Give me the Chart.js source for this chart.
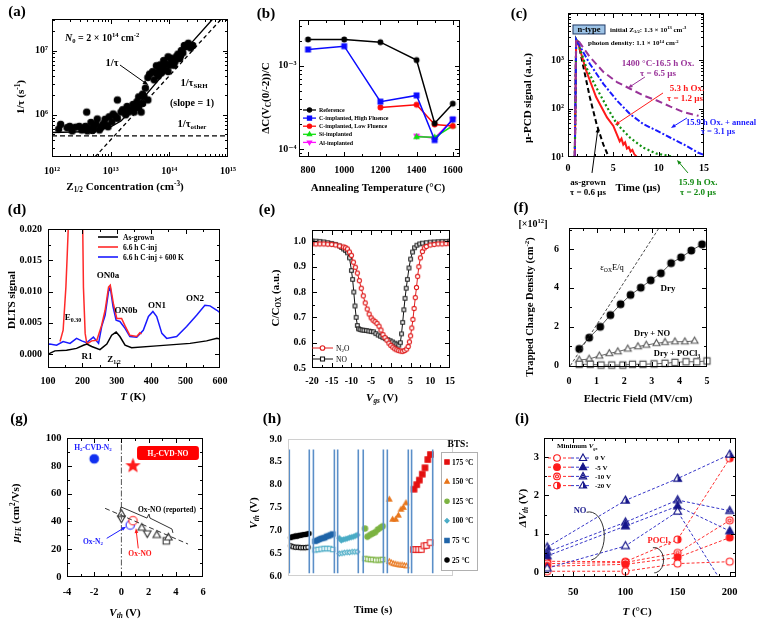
<!DOCTYPE html>
<html>
<head>
<meta charset="utf-8">
<title>SiC defect and MOS interface figures</title>
<script src="https://cdn.jsdelivr.net/npm/chart.js@4.4.1/dist/chart.umd.min.js"></script>
<style>
  html, body { margin: 0; padding: 0; background: #fff; }
  #wrap { position: relative; width: 758px; height: 623px; overflow: hidden; background: #fff; }
  #wrap canvas { position: absolute; left: 0; top: 0; }
</style>
</head>
<body>
<div id="wrap"></div>
<script>
// ---------- (a) 1/tau vs Z1/2 concentration ----------
const aZ = [1.3e12, 1.4e12, 1.8e12, 2.0e12, 2.5e12, 2.9e12, 3.2e12, 3.7e12, 3.9e12, 4.3e12,
  4.6e12, 5.2e12, 5.6e12, 5.9e12, 6.4e12, 7.2e12, 8.0e12, 8.6e12, 9.4e12, 1.05e13,
  1.1e13, 1.3e13, 1.3e13, 1.5e13, 1.6e13, 1.8e13, 1.9e13, 2.2e13, 2.4e13, 2.5e13,
  2.6e13, 2.8e13, 3.0e13, 3.0e13, 3.3e13, 3.5e13, 3.5e13, 3.7e13, 3.9e13, 4.3e13,
  4.3e13, 4.6e13, 5.2e13, 5.5e13, 5.8e13, 6.4e13, 6.8e13, 7.3e13, 7.8e13, 8.4e13,
  8.9e13, 9.5e13, 1.0e14, 1.1e14, 1.15e14, 1.2e14, 1.3e14, 1.5e14, 1.55e14, 1.7e14,
  1.8e14, 1.9e14, 2.1e14, 2.3e14, 2.5e14, 1.4e14, 9.5e13, 1.2e13, 2.0e13, 4.0e12,
  2.2e12, 3.4e12, 4.9e12, 6.8e12, 7.6e12, 9.0e12, 6.0e13, 7.0e13, 8.0e13, 1.05e14, 1.25e14, 1.6e14];
const aRate = [6.0e5, 7.1e5, 6.3e5, 6.6e5, 6.4e5, 6.6e5, 5.8e5, 6.6e5, 1.1e6, 6.1e5,
  7.6e5, 6.5e5, 7.2e5, 8.6e5, 5.8e5, 6.8e5, 8.5e5, 6.8e5, 9.3e5, 7.8e5,
  1.03e6, 8.8e5, 1.7e6, 1.1e6, 1.2e6, 1.0e6, 1.35e6, 1.2e6, 1.45e6, 1.1e6,
  1.3e6, 1.6e6, 1.3e6, 1.9e6, 1.1e6, 1.5e6, 2.1e6, 1.9e6, 2.6e6, 1.7e6,
  3.8e6, 4.3e6, 4.7e6, 3.5e6, 4.5e6, 4.0e6, 5.2e6, 4.5e6, 5.5e6, 5.0e6,
  6.2e6, 4.7e6, 5.9e6, 6.6e6, 7.0e6, 5.9e6, 8.0e6, 7.5e6, 8.3e6, 9.2e6,
  1.2e7, 1.15e7, 1.3e7, 1.1e7, 1.2e7, 8.8e6, 8.0e6, 9.5e5, 1.1e6, 5.6e5,
  5.6e5, 6.0e5, 5.7e5, 6.3e5, 7.3e5, 6.5e5, 5.8e6, 6.0e6, 7.0e6, 7.6e6, 6.8e6, 1.0e7];
const aFitZ = [1e12, 5e12, 1e13, 1.5e13, 2e13, 3e13, 5e13, 1e14, 2e14, 5.5e14];
const aFitRate = [5.3e5, 5.5e5, 6.5e5, 8e5, 1.05e6, 1.5e6, 2.6e6, 5.5e6, 1.1e7, 3.1e7];
const aSrhZ = [5.4e12, 7.7e14], aSrhRate = [2.2e5, 3.1e7];
const aOtherZ = [1e12, 1e15], aOtherRate = [4.7e5, 4.7e5];
const aTicksX = [1e12, 1e13, 1e14, 1e15], aLabelsX = ['10¹²', '10¹³', '10¹⁴', '10¹⁵'];
const aTicksY = [1e6, 1e7], aLabelsY = ['10⁶', '10⁷'];
const aArrow = [[1.44e13, 5.96e6], [4.38e13, 2.9e6]];

// ---------- (b) Z1/2 signal vs annealing temperature ----------
const bTemp = [800, 1000, 1200, 1400, 1500, 1600];
const bRef = [2.07e-3, 2.07e-3, 1.92e-3, 1.17e-3, 2.03e-4, 3.5e-4];
const bCHigh = [1.57e-3, 1.72e-3, 3.7e-4, 4.4e-4, 1.28e-4, 2.27e-4];
const bCLow = [null, null, 3.16e-4, 3.4e-4, 1.97e-4, 1.89e-4];
const bSi = [null, null, null, 1.4e-4, 1.38e-4, 1.9e-4];
const bAl = [null, null, null, 1.43e-4, 1.35e-4, 2.25e-4];
const bNames = ['Reference', 'C-implanted, High Fluence', 'C-implanted, Low Fluence', 'Si-implanted', 'Al-implanted'];
const bTicksX = [800, 1000, 1200, 1400, 1600], bLabelsX = ['800', '1000', '1200', '1400', '1600'];
const bTicksY = [1e-4, 1e-3], bLabelsY = ['10⁻⁴', '10⁻³'];

// ---------- (c) u-PCD decay curves ----------
const cAsGrown = [[0.75, 10], [0.9, 2700], [1.1, 2500], [1.7, 725], [2.4, 174], [3.15, 48], [3.9, 18], [4.45, 10.4]];
const cOx53 = [[0.75, 10], [0.9, 2700], [1.1, 2300], [2.0, 615], [3.1, 174], [4.3, 66], [5.0, 44], [5.5, 26], [5.7, 21],
  [5.9, 24], [6.1, 18], [6.3, 20], [6.5, 15], [6.7, 16], [6.9, 13], [7.1, 14], [7.3, 11.5], [7.6, 10]];
const cOx159 = [[0.75, 10], [0.9, 2700], [1.1, 2300], [2.0, 725], [3.1, 277], [4.3, 107], [5.4, 48], [6.85, 25],
  [8.3, 15.6], [9.8, 11.7], [10.6, 11], [11.2, 10.5], [11.7, 10]];
const cAnneal = [[0.75, 10], [0.9, 2700], [1.1, 2300], [2.4, 850], [3.9, 325], [5.4, 147], [6.85, 77], [8.3, 48],
  [9.8, 35], [11.3, 25], [12.8, 18], [14.3, 12.4], [15, 11]];
const c1400 = [[0.75, 10], [0.9, 2700], [1.1, 2600], [2.4, 1180], [3.9, 575], [5.4, 355], [6.85, 258], [8.3, 187],
  [9.8, 147], [11.3, 110], [12.8, 84], [14.4, 71]];
const cTicksX = [0, 5, 10, 15], cLabelsX = ['0', '5', '10', '15'];
const cTicksY = [10, 100, 1000], cLabelsY = ['10¹', '10²', '10³'];

// ---------- (d) DLTS spectra ----------
const dBlackT = [100, 105, 120, 154, 183, 203, 213, 227, 251, 271, 285, 298, 309, 324, 343, 416, 513, 561, 591, 600];
const dBlack = [0.0000, 0.0001, 0.0005, 0.0006, 0.0009, 0.0014, 0.0016, 0.0012, 0.0007, 0.0016, 0.0030, 0.0035, 0.0028,
  0.0014, 0.0010, 0.0013, 0.0017, 0.0021, 0.0025, 0.0024];
const dRedT = [135, 144, 152, 156, 159, 170, 190, 201, 203, 208, 213, 227, 242, 256, 266, 276, 281, 290, 300, 314, 324, 338, 358, 367, 372];
const dRed = [0.0020, 0.0038, 0.0107, 0.0160, 0.0203, 0.035, 0.035, 0.0200, 0.0107, 0.0033, 0.0016, 0.0021, 0.0022, 0.0046,
  0.0070, 0.0107, 0.0110, 0.0081, 0.0057, 0.0057, 0.0045, 0.0030, 0.0028, 0.0034, 0.0032];
const dBlueT = [100, 105, 125, 144, 164, 183, 198, 212, 232, 247, 256, 266, 276, 281, 289, 298, 309, 324, 338, 358,
  377, 392, 405, 416, 431, 445, 474, 503, 532, 556, 571, 591, 600];
const dBlue = [0.0015, 0.0016, 0.0014, 0.0020, 0.0017, 0.0025, 0.0021, 0.0018, 0.0027, 0.0017, 0.0044, 0.0062, 0.0100,
  0.0107, 0.0076, 0.0054, 0.0052, 0.0041, 0.0028, 0.0027, 0.0038, 0.0060, 0.0068, 0.0060, 0.0033, 0.0025, 0.0028,
  0.0044, 0.0062, 0.0078, 0.0077, 0.0070, 0.0066];
const dNames = ['As-grown', '6.6 h C-inj', '6.6 h C-inj + 600 K'];
const dTicksX = [100, 200, 300, 400, 500, 600], dLabelsX = ['100', '200', '300', '400', '500', '600'];
const dTicksY = [0, 0.005, 0.01, 0.015, 0.02], dLabelsY = ['0.000', '0.005', '0.010', '0.015', '0.020'];

// ---------- (e) C-V curves ----------
const eNO = [[-20, 1.002], [-19, 1.001], [-18, 1.0], [-17, 0.998], [-16, 0.995], [-15, 0.992], [-14, 0.988], [-13, 0.982],
  [-12.5, 0.976], [-12, 0.97], [-11.5, 0.964], [-11, 0.955], [-10.5, 0.935], [-10, 0.885], [-9.7, 0.85], [-9.4, 0.80],
  [-9.1, 0.745], [-8.8, 0.70], [-8.5, 0.668], [-8.2, 0.655], [-7.8, 0.652], [-7.3, 0.65], [-6.8, 0.649], [-6.2, 0.648],
  [-5.6, 0.646], [-5, 0.644], [-4.4, 0.643], [-3.8, 0.636], [-3.2, 0.63], [-2.6, 0.625], [-2, 0.62], [-1.4, 0.616],
  [-0.8, 0.612], [-0.2, 0.608], [0.4, 0.603], [1, 0.598], [1.5, 0.594], [2, 0.59], [2.4, 0.60], [2.7, 0.635], [3, 0.68],
  [3.3, 0.73], [3.6, 0.775], [3.9, 0.815], [4.2, 0.85], [4.6, 0.895], [5, 0.93], [5.5, 0.958], [6, 0.975], [6.6, 0.985],
  [7.3, 0.99], [8, 0.993], [9, 0.995], [10, 0.997], [11, 0.998], [12, 0.999], [13, 1.0], [14, 1.0], [15, 1.001]];
const eN2O = [[-20, 0.99], [-19, 0.99], [-18, 0.99], [-17, 0.99], [-16, 0.989], [-15, 0.988], [-14, 0.986], [-13, 0.982],
  [-12, 0.978], [-11.5, 0.975], [-11, 0.97], [-10.5, 0.958], [-10, 0.945], [-9.5, 0.918], [-9, 0.898], [-8.5, 0.875],
  [-8, 0.845], [-7.5, 0.815], [-7, 0.785], [-6.5, 0.757], [-6, 0.733], [-5.5, 0.713], [-5, 0.698], [-4.5, 0.689],
  [-4, 0.683], [-3.5, 0.676], [-3, 0.665], [-2.5, 0.65], [-2, 0.632], [-1.5, 0.62], [-1, 0.61], [-0.5, 0.598], [0, 0.589],
  [0.5, 0.582], [1, 0.576], [1.5, 0.572], [2, 0.569], [2.5, 0.567], [3, 0.566], [3.5, 0.569], [4, 0.575], [4.4, 0.585],
  [4.7, 0.603], [5, 0.627], [5.3, 0.658], [5.6, 0.692], [5.9, 0.735], [6.2, 0.778], [6.5, 0.818], [6.8, 0.862], [7.1, 0.9],
  [7.5, 0.935], [8, 0.96], [8.5, 0.974], [9, 0.98], [10, 0.986], [11, 0.988], [12, 0.99], [13, 0.99], [14, 0.991], [15, 0.991]];
const eTicksX = [-20, -15, -10, -5, 0, 5, 10, 15], eLabelsX = ['-20', '-15', '-10', '-5', '0', '5', '10', '15'];
const eTicksY = [0.5, 0.6, 0.7, 0.8, 0.9, 1.0], eLabelsY = ['0.5', '0.6', '0.7', '0.8', '0.9', '1.0'];

// ---------- (f) trapped charge vs field ----------
const fFieldDry = [0.37, 0.73, 1.13, 1.5, 1.87, 2.23, 2.6, 2.96, 3.33, 3.7, 4.06, 4.43, 4.82];
const fDry = [0.86, 1.44, 2.0, 2.6, 3.16, 3.64, 4.01, 4.39, 4.75, 5.27, 5.57, 5.92, 6.24];
const fFieldNO = [0.37, 0.73, 1.1, 1.46, 1.77, 2.13, 2.5, 2.8, 3.17, 3.48, 3.84, 4.2, 4.55];
const fNO = [0.29, 0.34, 0.5, 0.63, 0.72, 0.86, 0.98, 1.06, 1.15, 1.2, 1.23, 1.23, 1.27];
const fFieldP = [0.37, 0.77, 1.16, 1.55, 1.95, 2.3, 2.68, 3.08, 3.48, 3.84, 4.24, 4.63, 5.0];
const fPOCl = [0.07, 0.07, 0.03, 0.03, 0.03, 0.07, 0.07, 0.09, 0.12, 0.17, 0.2, 0.2, 0.24];
const fLimitE = [0.05, 3.27], fLimitQ = [0, 7.1];
const fTicksX = [0, 1, 2, 3, 4, 5], fLabelsX = ['0', '1', '2', '3', '4', '5'];
const fTicksY = [0, 2, 4, 6], fLabelsY = ['0', '2', '4', '6'];

// ---------- (g) mobility vs threshold ----------
const gH2N2V = [-2], gH2N2Mu = [85];
const gH2NOV = [0.85], gH2NOMu = [80];
const gOxN2V = [0.65], gOxN2Mu = [37.4];
const gOxNOV = [0.85], gOxNOMu = [40.5];
const gUpV = [0, 1.5, 2.6, 3.45], gUpMu = [45.5, 35.5, 30.2, 28.5];
const gDownV = [0, 1.9], gDownMu = [42, 31.4];
const gSqV = [3.3], gSqMu = [26];
const gTrendV = [-1.2, 4.9], gTrendMu = [49.4, 23.7];
const gZeroV = [0, 0], gZeroMu = [0, 100];
const gBrace = [[-0.1, 47.5], [-0.03, 50.4], [1.88, 42.4], [2.03, 45.3], [2.1, 42.4], [3.72, 34.5], [3.79, 31.7]];
const gTicksX = [-4, -2, 0, 2, 4, 6], gLabelsX = ['-4', '-2', '0', '2', '4', '6'];
const gTicksY = [0, 20, 40, 60, 80, 100], gLabelsY = ['0', '20', '40', '60', '80', '100'];

// ---------- (h) BTS threshold shifts ----------
const h25T = [1.6, 2.6, 3.6, 4.6, 5.6, 6.6, 7.6, 8.6, 9.7, 10.7, 11.7, 12.7];
const h25On = [6.84, 6.86, 6.86, 6.88, 6.87, 6.89, 6.89, 6.90, 6.91, 6.91, 6.92, 6.93];
const h25OffT = [1.6, 3.1, 4.6, 6.1, 7.6, 9.1, 10.6, 12.1];
const h25Off = [6.66, 6.64, 6.63, 6.63, 6.62, 6.62, 6.62, 6.63];
const h75T = [16.4, 17.6, 18.8, 20.0, 21.2, 22.3, 23.5, 24.7, 25.9, 27.1];
const h75On = [6.76, 6.78, 6.80, 6.82, 6.83, 6.84, 6.87, 6.88, 6.90, 6.92];
const h75OffT = [16.4, 18.2, 20.0, 21.8, 23.5, 25.3, 27.1];
const h75Off = [6.57, 6.58, 6.59, 6.60, 6.60, 6.60, 6.58];
const h100T = [31.1, 32.3, 33.5, 34.7, 35.9, 37.2, 38.4, 39.6, 40.8, 42.0];
const h100On = [6.83, 6.78, 6.80, 6.81, 6.82, 6.84, 6.85, 6.86, 6.88, 6.90];
const h100OffT = [31.1, 32.7, 34.2, 35.8, 37.3, 38.9, 40.4, 42.0];
const h100Off = [6.49, 6.50, 6.51, 6.52, 6.52, 6.53, 6.53, 6.53];
const h125T = [46.7, 48.1, 49.7, 51.3, 52.9, 54.5, 56.2, 57.4];
const h125On = [7.04, 6.86, 6.90, 6.93, 6.96, 7.02, 7.06, 7.09];
const h125OffT = [46.7, 48.3, 49.9, 51.4, 53.0, 54.6, 56.1, 57.4];
const h125Off = [6.38, 6.37, 6.36, 6.36, 6.35, 6.35, 6.35, 6.36];
const h150T = [61.4, 63.4, 65.3, 66.9, 68.5, 69.9, 71.5];
const h150On = [7.68, 7.24, 7.24, 7.33, 7.46, 7.50, 7.60];
const h150OffT = [61.4, 62.7, 64.0, 65.3, 66.6, 67.9, 69.2, 70.5, 71.8];
const h150Off = [6.32, 6.29, 6.27, 6.26, 6.25, 6.24, 6.24, 6.23, 6.22];
const h175T = [76.4, 78.0, 79.6, 81.4, 83.0, 84.7, 86.3];
const h175On = [7.90, 8.00, 8.10, 8.23, 8.37, 8.55, 8.66];
const h175OffT = [76.0, 77.6, 79.2, 80.8, 82.4, 84.0, 86.1];
const h175Off = [6.58, 6.58, 6.58, 6.58, 6.66, 6.67, 6.73];
const hSplit = [0.8, 12.9, 15.4, 28.1, 30.1, 42.6, 45.6, 57.8, 60.2, 72.9, 74.9, 87.7];
const hSplitLow = 6.06, hSplitHigh = 8.77;
const hNames = ['175 °C', '150 °C', '125 °C', '100 °C', '75 °C', '25 °C'];
const hTicksY = [6.0, 6.5, 7.0, 7.5, 8.0, 8.5, 9.0], hLabelsY = ['6.0', '6.5', '7.0', '7.5', '8.0', '8.5', '9.0'];

// ---------- (i) dVth vs temperature ----------
const iTemp = [25, 100, 150, 200];
const iPoc0 = [0.02, 0.02, 0.22, 0.27];
const iPoc5 = [0.15, 0.2, 0.38, 0.9];
const iPoc10 = [0.22, 0.25, 0.5, 1.35];
const iPoc20 = [0.28, 0.27, 0.85, 2.97];
const iNo0 = [0.1, 0.68, 1.58, -0.6];
const iNo5 = [0.42, 1.2, 1.72, 1.07];
const iNo10 = [0.52, 1.3, 1.88, 1.6];
const iNo20 = [0.65, 1.87, 2.44, 3.07];
const iNames = ['0 V', '-5 V', '-10 V', '-20 V'];
const iTicksX = [50, 100, 150, 200], iLabelsX = ['50', '100', '150', '200'];
const iTicksY = [0, 1, 2, 3], iLabelsY = ['0', '1', '2', '3'];

// ---------- setup ----------
const W = 758, H = 623;
const FONT = "'Liberation Serif', 'Times New Roman', 'DejaVu Serif', serif";
const RED = '#ff1a1a', BLUE = '#1a1aff', NAVY = '#16168a', PURPLE = '#993399', GREEN = '#128a12';
Chart.defaults.font.family = FONT;
Chart.defaults.font.weight = 'bold';
Chart.defaults.font.size = 10;
Chart.defaults.color = '#000';
Chart.defaults.animation = false;
Chart.defaults.responsive = false;
Chart.defaults.devicePixelRatio = 1;
Chart.defaults.events = [];

const wrap = document.getElementById('wrap');
const pts = (xs, ys) => xs.map((x, i) => ({ x, y: ys[i] })).filter(p => p.y !== null);
const pairs = arr => arr.map(([x, y]) => ({ x, y }));
function range(a, b, s) { const o = []; for (let v = a; v <= b + 1e-9; v += s) o.push(+v.toFixed(6)); return o; }
function logMinor(lo, hi) {
  const out = [];
  for (let e = Math.floor(Math.log10(lo)); e <= Math.ceil(Math.log10(hi)); e++)
    for (let m = 2; m <= 9; m++) { const v = m * Math.pow(10, e); if (v > lo && v < hi) out.push(v); }
  return out;
}

// text with ^{sup} _{sub} *{italic} ~{italic sub}
function rich(ctx, str, x, y, o = {}) {
  const size = o.size || 10, weight = o.weight || 'bold';
  const parts = []; const re = /([\^_*~])\{([^}]*)\}/g; let last = 0, m;
  while ((m = re.exec(str))) {
    if (m.index > last) parts.push(['', str.slice(last, m.index)]);
    parts.push([m[1], m[2]]); last = re.lastIndex;
  }
  if (last < str.length) parts.push(['', str.slice(last)]);
  const fontOf = k => {
    const small = k === '^' || k === '_' || k === '~';
    const it = k === '*' || k === '~';
    return (it ? 'italic ' : '') + weight + ' ' + (small ? size * 0.66 : size) + 'px ' + FONT;
  };
  ctx.save();
  ctx.translate(x, y);
  if (o.rot) ctx.rotate(o.rot * Math.PI / 180);
  let w = 0;
  const ws = parts.map(p => { ctx.font = fontOf(p[0]); const mw = ctx.measureText(p[1]).width; w += mw; return mw; });
  let cx = o.align === 'left' ? 0 : o.align === 'right' ? -w : -w / 2;
  ctx.fillStyle = o.color || '#000'; ctx.textBaseline = 'alphabetic'; ctx.textAlign = 'left';
  parts.forEach((p, i) => {
    ctx.font = fontOf(p[0]);
    const dy = p[0] === '^' ? -size * 0.38 : (p[0] === '_' || p[0] === '~') ? size * 0.22 : 0;
    ctx.fillText(p[1], cx, size * 0.35 + dy);
    cx += ws[i];
  });
  ctx.restore();
}

// marker shapes: c circle, s square, t triangle, v down triangle, d diamond, x star
// fills: f filled, o open, d double, h half
function mark(ctx, kind, x, y, r, col) {
  ctx.save();
  ctx.strokeStyle = col; ctx.lineWidth = 1.1;
  const shape = kind[0], fill = kind[1];
  const path = rr => {
    ctx.beginPath();
    if (shape === 'c') ctx.arc(x, y, rr, 0, Math.PI * 2);
    else if (shape === 's') ctx.rect(x - rr, y - rr, 2 * rr, 2 * rr);
    else if (shape === 't') { ctx.moveTo(x, y - rr * 1.15); ctx.lineTo(x + rr * 1.05, y + rr * 0.7); ctx.lineTo(x - rr * 1.05, y + rr * 0.7); ctx.closePath(); }
    else if (shape === 'v') { ctx.moveTo(x, y + rr * 1.15); ctx.lineTo(x + rr * 1.05, y - rr * 0.7); ctx.lineTo(x - rr * 1.05, y - rr * 0.7); ctx.closePath(); }
    else if (shape === 'd') { ctx.moveTo(x, y - rr); ctx.lineTo(x + rr, y); ctx.lineTo(x, y + rr); ctx.lineTo(x - rr, y); ctx.closePath(); }
    else if (shape === 'x') {
      for (let k = 0; k < 10; k++) {
        const q = k % 2 ? rr * 0.42 : rr, an = -Math.PI / 2 + k * Math.PI / 5;
        const px = x + q * Math.cos(an), py = y + q * Math.sin(an);
        if (k) ctx.lineTo(px, py); else ctx.moveTo(px, py);
      }
      ctx.closePath();
    }
  };
  path(r);
  if (fill === 'f') { ctx.fillStyle = col; ctx.fill(); ctx.stroke(); }
  else {
    ctx.fillStyle = '#fff'; ctx.fill();
    if (fill === 'h') {
      ctx.save(); path(r); ctx.clip(); ctx.fillStyle = col; ctx.fillRect(x, y - r * 2, r * 2, r * 4); ctx.restore();
    }
    path(r); ctx.stroke();
    if (fill === 'd') { path(r * 0.45); ctx.stroke(); }
  }
  ctx.restore();
}
function markImg(kind, r, col) {
  const s = Math.ceil(r * 2.6 + 4) | 1;
  const c = document.createElement('canvas'); c.width = s; c.height = s;
  mark(c.getContext('2d'), kind, s / 2, s / 2, r, col);
  return c;
}
function seg(ctx, x1, y1, x2, y2) { ctx.beginPath(); ctx.moveTo(x1, y1); ctx.lineTo(x2, y2); ctx.stroke(); }
function arrow(ctx, x1, y1, x2, y2, col, lw = 1, hl = 5) {
  const ang = Math.atan2(y2 - y1, x2 - x1);
  ctx.save();
  ctx.strokeStyle = col; ctx.fillStyle = col; ctx.lineWidth = lw;
  seg(ctx, x1, y1, x2 - Math.cos(ang) * hl * 0.7, y2 - Math.sin(ang) * hl * 0.7);
  ctx.beginPath(); ctx.moveTo(x2, y2);
  ctx.lineTo(x2 - hl * Math.cos(ang - 0.38), y2 - hl * Math.sin(ang - 0.38));
  ctx.lineTo(x2 - hl * Math.cos(ang + 0.38), y2 - hl * Math.sin(ang + 0.38));
  ctx.closePath(); ctx.fill();
  ctx.restore();
}

function mkScale(o, isX, size) {
  return {
    type: o.type || 'linear', position: isX ? 'bottom' : 'left',
    min: o.min, max: o.max,
    grid: { display: false, drawTicks: false }, border: { display: false },
    ticks: {
      display: !!o.labels, autoSkip: false, maxRotation: 0, minRotation: 0,
      padding: o.pad == null ? 6 : o.pad, color: '#000',
      font: { family: FONT, size: o.fs || 10, weight: 'bold' },
      callback: (v, i) => (o.labels ? o.labels[i] : '')
    },
    afterBuildTicks: s => { s.ticks = (o.ticks || []).map(v => ({ value: v })); },
    afterFit: s => { if (isX) s.height = size; else s.width = size; }
  };
}

function ds(data, o) {
  return Object.assign({ data, showLine: false, pointRadius: 0, borderWidth: 1, borderColor: '#000',
    backgroundColor: '#000', fill: false, tension: 0 }, o);
}
function lineDs(data, col, w, dash, o) {
  return ds(data, Object.assign({ showLine: true, borderColor: col, borderWidth: w, borderDash: dash || [] }, o));
}
function markDs(data, kind, r, col, o) {
  return ds(data, Object.assign({ pointStyle: markImg(kind, r, col), pointRadius: r, clip: 6 }, o));
}

function panel(p) {
  const cv = document.createElement('canvas');
  cv.width = W; cv.height = H; wrap.appendChild(cv);
  const [L, T, R, B] = p.area;
  const yw = 44, xh = 34;
  return new Chart(cv, {
    type: 'scatter',
    data: { datasets: p.datasets },
    options: {
      layout: { padding: { left: L - yw, right: W - R, top: T, bottom: H - B - xh } },
      scales: { x: mkScale(p.x, true, xh), y: mkScale(p.y, false, yw) },
      plugins: { legend: { display: false }, tooltip: { enabled: false } }
    },
    plugins: [{
      id: 'deco',
      afterDatasetsDraw(c) {
        const ctx = c.ctx, a = c.chartArea, xs = c.scales.x, ys = c.scales.y;
        const X = v => xs.getPixelForValue(v), Y = v => ys.getPixelForValue(v);
        ctx.save();
        const l = Math.round(a.left) + 0.5, r = Math.round(a.right) - 0.5;
        const t = Math.round(a.top) + 0.5, b = Math.round(a.bottom) - 0.5;
        ctx.strokeStyle = p.frameColor || '#000'; ctx.lineWidth = 1;
        ctx.strokeRect(l, t, r - l, b - t);
        if (p.ticksIn !== false) {
          const doX = (vals, len) => vals.forEach(v => {
            const x = Math.round(X(v)) + 0.5; if (x < l - 0.6 || x > r + 0.6) return;
            seg(ctx, x, b, x, b - len); seg(ctx, x, t, x, t + len);
          });
          const doY = (vals, len) => vals.forEach(v => {
            const y = Math.round(Y(v)) + 0.5; if (y < t - 0.6 || y > b + 0.6) return;
            seg(ctx, l, y, l + len, y); seg(ctx, r, y, r - len, y);
          });
          doX(p.x.ticks, 4.5); doX(p.x.minor || [], 2.5);
          doY(p.y.ticks, 4.5); doY(p.y.minor || [], 2.5);
        }
        if (p.over) p.over(ctx, X, Y);
        (p.texts || []).forEach(tx => rich(ctx, tx[0], tx[1], tx[2], tx[3] || {}));
        ctx.restore();
      }
    }]
  });
}

// ---------- (a) ----------
panel({
  area: [52, 19, 228, 157],
  x: { type: 'logarithmic', min: 1e12, max: 1e15, ticks: aTicksX, labels: aLabelsX, minor: logMinor(1e12, 1e15), pad: 8 },
  y: { type: 'logarithmic', min: 2.2e5, max: 3.1e7, ticks: aTicksY, labels: aLabelsY, minor: logMinor(2.2e5, 3.1e7), pad: 4 },
  datasets: [
    lineDs(pts(aOtherZ, aOtherRate), '#000', 1.3, [5, 3]),
    lineDs(pts(aSrhZ, aSrhRate), '#000', 1.3, [4, 3]),
    markDs(pts(aZ, aRate), 'cf', 3.2, '#000'),
    lineDs(pts(aFitZ, aFitRate), '#000', 1.4)
  ],
  over: (ctx, X, Y) => arrow(ctx, X(aArrow[0][0]), Y(aArrow[0][1]), X(aArrow[1][0]), Y(aArrow[1][1]), '#000', 1, 6),
  texts: [
    ['(a)', 17, 11, { size: 15 }],
    ['1/τ (s^{-1})', 20, 97, { size: 11, rot: -90 }],
    ['Z_{1/2} Concentration (cm^{-3})', 125, 186, { size: 11 }],
    ['*{N}_{0} = 2 × 10^{14} cm^{-2}', 65, 37, { size: 10, align: 'left' }],
    ['1/τ', 112, 62, { size: 10.5 }],
    ['1/τ_{SRH}', 194, 82, { size: 10.5 }],
    ['(slope = 1)', 192, 102, { size: 10 }],
    ['1/τ_{other}', 192, 123, { size: 10.5 }]
  ]
});

// ---------- (b) ----------
const bSeries = [bRef, bCHigh, bCLow, bSi, bAl];
const bColors = ['#000', '#0a0aff', '#ff0a0a', '#10e010', '#ff10ff'];
const bMarks = ['cf', 'sf', 'cf', 'tf', 'vf'];
panel({
  area: [299, 20, 460, 157],
  x: { min: 750, max: 1640, ticks: bTicksX, labels: bLabelsX, minor: [900, 1100, 1300, 1500], pad: 7.5 },
  y: { type: 'logarithmic', min: 8e-5, max: 3.55e-3, ticks: bTicksY, labels: bLabelsY, minor: logMinor(8e-5, 3.55e-3), pad: 2.5 },
  datasets: bSeries.map((s, i) => lineDs(pts(bTemp, s), bColors[i], 1.5, [], {
    pointStyle: markImg(bMarks[i], 2.4, bColors[i]), pointRadius: 2.4 })),
  over: ctx => {
    bNames.forEach((n, i) => {
      const y = 110 + i * 8.1;
      ctx.strokeStyle = bColors[i]; ctx.lineWidth = 1.3; seg(ctx, 303, y, 316, y);
      mark(ctx, bMarks[i], 309.5, y, 2.1, bColors[i]);
      rich(ctx, n, 319, y, { size: 6, align: 'left' });
    });
  },
  texts: [
    ['(b)', 266, 13, { size: 15 }],
    ['ΔC(V_{C}(0/-2))/C', 265, 98, { size: 11, rot: -90 }],
    ['Annealing Temperature (°C)', 378, 187, { size: 11 }]
  ]
});

// ---------- (c) ----------
const cBox = [0.55, 4.08, 5370, 3500];
panel({
  area: [568, 13, 704, 157],
  x: { min: 0, max: 15, ticks: cTicksX, labels: cLabelsX, minor: range(1, 14, 1), pad: 5 },
  y: { type: 'logarithmic', min: 10, max: 9500, ticks: cTicksY, labels: cLabelsY, minor: logMinor(10, 9500), pad: 4 },
  datasets: [
    lineDs(pairs(c1400), PURPLE, 2, [7, 4]),
    lineDs(pairs(cAnneal), BLUE, 2, [6, 2, 2, 2]),
    lineDs(pairs(cOx159), '#109010', 2.2, [2, 2.5]),
    lineDs(pairs(cOx53), RED, 2),
    lineDs(pairs(cAsGrown), '#000', 2, [5, 3])
  ],
  over: (ctx, X, Y) => {
    const x1 = X(cBox[0]), x2 = X(cBox[1]), y1 = Y(cBox[2]), y2 = Y(cBox[3]);
    ctx.fillStyle = '#9dc3e6'; ctx.fillRect(x1, y1, x2 - x1, y2 - y1);
    ctx.strokeStyle = '#1f3864'; ctx.lineWidth = 1; ctx.strokeRect(x1, y1, x2 - x1, y2 - y1);
    rich(ctx, 'n-type', (x1 + x2) / 2, (y1 + y2) / 2, { size: 8.5 });
    arrow(ctx, X(8.49), Y(452), X(6.62), Y(267), PURPLE, 1, 5);
    arrow(ctx, X(10.48), Y(211), X(5.18), Y(46), RED, 1, 5);
    arrow(ctx, X(13.12), Y(64), X(11.36), Y(40), BLUE, 1, 5);
    arrow(ctx, X(13.23), Y(4.68), X(12.02), Y(8.67), GREEN, 1, 5);
    arrow(ctx, X(2.65), Y(4.68), X(3.31), Y(40), '#000', 1, 5);
  },
  texts: [
    ['(c)', 519, 13, { size: 15 }],
    ['µ-PCD signal (a.u.)', 527, 98, { size: 11, rot: -90 }],
    ['Time (µs)', 638, 187, { size: 11 }],
    ['initial Z_{1/2}: 1.3 × 10^{13} cm^{-3}', 610, 29.5, { size: 7, align: 'left' }],
    ['photon density: 1.1 × 10^{14} cm^{-2}', 588, 43, { size: 7, align: 'left' }],
    ['1400 °C-16.5 h Ox.', 658, 63, { size: 9, color: PURPLE }],
    ['τ = 6.5 µs', 658, 72.5, { size: 9, color: PURPLE }],
    ['5.3 h Ox.', 687, 88, { size: 9, color: RED }],
    ['τ = 1.2 µs', 685, 98, { size: 9, color: RED }],
    ['15.9 h Ox. + anneal', 721, 122, { size: 8.5, color: BLUE }],
    ['τ = 3.1 µs', 718, 131.5, { size: 8.5, color: BLUE }],
    ['15.9 h Ox.', 698, 182, { size: 9, color: GREEN }],
    ['τ = 2.0 µs', 698, 192, { size: 9, color: GREEN }],
    ['as-grown', 588, 182, { size: 9 }],
    ['τ = 0.6 µs', 588, 192, { size: 9 }]
  ]
});

// ---------- (d) ----------
const dColors = ['#000', '#ff2a2a', '#1a1aff'];
panel({
  area: [48, 229, 220, 368],
  x: { min: 100, max: 600, ticks: dTicksX, labels: dLabelsX, minor: range(150, 550, 100), pad: 7.5 },
  y: { min: -0.00224, max: 0.02, ticks: dTicksY, labels: dLabelsY, minor: range(0.0025, 0.0175, 0.005), pad: 6 },
  datasets: [
    lineDs(pts(dBlackT, dBlack), dColors[0], 1.5),
    lineDs(pts(dRedT, dRed), dColors[1], 1.5),
    lineDs(pts(dBlueT, dBlue), dColors[2], 1.5)
  ],
  over: ctx => {
    dNames.forEach((n, i) => {
      const y = 237 + i * 10;
      ctx.strokeStyle = dColors[i]; ctx.lineWidth = 1.6; seg(ctx, 98, y, 118, y);
      rich(ctx, n, 123, y, { size: 7.5, align: 'left' });
    });
  },
  texts: [
    ['(d)', 17, 209, { size: 15 }],
    ['DLTS signal', 11, 300, { size: 11, rot: -90 }],
    ['*{T} (K)', 133, 396, { size: 11 }],
    ['E_{0.30}', 73, 317, { size: 9 }],
    ['R1', 87, 356, { size: 9 }],
    ['Z_{1/2}', 114, 359, { size: 9 }],
    ['ON0a', 108, 275, { size: 9 }],
    ['ON0b', 126, 310, { size: 9 }],
    ['ON1', 157, 305, { size: 9 }],
    ['ON2', 195, 298, { size: 9 }]
  ]
});

// ---------- (e) ----------
panel({
  area: [312, 230, 450, 368],
  x: { min: -20, max: 15, ticks: eTicksX, labels: eLabelsX, minor: range(-17.5, 12.5, 5), pad: 7.5 },
  y: { min: 0.5, max: 1.045, ticks: eTicksY, labels: eLabelsY, minor: range(0.55, 0.95, 0.1), pad: 6 },
  datasets: [
    lineDs(pairs(eN2O), '#e02020', 1, [], { pointStyle: markImg('co', 2.1, '#e02020'), pointRadius: 2.1 }),
    lineDs(pairs(eNO), '#111', 1, [], { pointStyle: markImg('so', 1.8, '#111'), pointRadius: 1.8 })
  ],
  over: ctx => {
    ctx.lineWidth = 1;
    ctx.strokeStyle = '#e02020'; seg(ctx, 312, 348, 333, 348); mark(ctx, 'co', 322.5, 348, 2.3, '#e02020');
    ctx.strokeStyle = '#111'; seg(ctx, 312, 359, 333, 359); mark(ctx, 'so', 322.5, 359, 2, '#111');
    rich(ctx, 'N_{2}O', 336, 348, { size: 7.5, align: 'left', weight: 'normal' });
    rich(ctx, 'NO', 336, 359, { size: 7.5, align: 'left', weight: 'normal' });
  },
  texts: [
    ['(e)', 267, 209, { size: 15 }],
    ['C/C_{OX} (a.u.)', 275, 298, { size: 11, rot: -90 }],
    ['*{V}~{gs} (V)', 382, 397, { size: 11 }]
  ]
});

// ---------- (f) ----------
panel({
  area: [569, 228, 707, 367],
  x: { min: 0, max: 5, ticks: fTicksX, labels: fLabelsX, minor: range(0.5, 4.5, 1), pad: 8.5 },
  y: { min: -0.07, max: 7.08, ticks: fTicksY, labels: fLabelsY, minor: [1, 3, 5, 7], pad: 10 },
  datasets: [
    lineDs(pts(fLimitE, fLimitQ), '#333', 0.9, [3, 2]),
    lineDs(pts(fFieldP, fPOCl), '#555', 0.9, [], { pointStyle: markImg('so', 3.1, '#555'), pointRadius: 3.1, clip: 6 }),
    lineDs(pts(fFieldNO, fNO), '#555', 0.9, [], { pointStyle: markImg('to', 3.3, '#555'), pointRadius: 3.3, clip: 6 }),
    lineDs(pts(fFieldDry, fDry), '#444', 0.9, [], { pointStyle: markImg('cf', 3.4, '#000'), pointRadius: 3.4, clip: 6 })
  ],
  texts: [
    ['(f)', 521, 207, { size: 15 }],
    ['[×10^{12}]', 533, 223, { size: 10 }],
    ['Trapped Charge Density (cm^{-2})', 529, 307, { size: 10.5, rot: -90 }],
    ['Electric Field (MV/cm)', 638, 398, { size: 11 }],
    ['ε_{OX}E/q', 612, 267, { size: 8.5, weight: 'normal' }],
    ['Dry', 668, 288, { size: 9 }],
    ['Dry + NO', 652, 333, { size: 8.5 }],
    ['Dry + POCl_{3}', 677, 353, { size: 8.5 }]
  ]
});

// ---------- (g) ----------
panel({
  area: [67, 438, 203, 577],
  x: { min: -4, max: 6, ticks: gTicksX, labels: gLabelsX, minor: [-3, -1, 1, 3, 5], pad: 8.5, fs: 10.5 },
  y: { min: 0, max: 100, ticks: gTicksY, labels: gLabelsY, minor: [10, 30, 50, 70, 90], pad: 5.5, fs: 10.5 },
  datasets: [
    lineDs(pts(gZeroV, gZeroMu), '#555', 1, [6, 2, 1.5, 2]),
    lineDs(pts(gTrendV, gTrendMu), '#333', 1, [5, 3]),
    markDs(pts(gUpV, gUpMu), 'to', 3.6, '#333'),
    markDs(pts(gDownV, gDownMu), 'vo', 3.6, '#333'),
    markDs(pts(gSqV, gSqMu), 'so', 3.2, '#333'),
    markDs(pts(gOxNOV, gOxNOMu), 'co', 4.2, RED),
    markDs(pts(gOxN2V, gOxN2Mu), 'co', 4.2, BLUE),
    markDs(pts(gH2N2V, gH2N2Mu), 'cf', 4.3, '#1030f0'),
    markDs(pts(gH2NOV, gH2NOMu), 'xf', 6.5, RED)
  ],
  over: (ctx, X, Y) => {
    ctx.strokeStyle = '#333'; ctx.lineWidth = 1;
    ctx.beginPath();
    gBrace.forEach(([v, m], i) => (i ? ctx.lineTo(X(v), Y(m)) : ctx.moveTo(X(v), Y(m))));
    ctx.stroke();
    arrow(ctx, X(-1.08), Y(27.8), X(0.34), Y(36.2), BLUE, 1, 5);
    arrow(ctx, X(1.24), Y(20.6), X(1.07), Y(35), RED, 1, 5);
    const x1 = X(1.15), x2 = X(5.7), y1 = Y(94.2), y2 = Y(84.2);
    ctx.fillStyle = '#ff0000';
    ctx.beginPath(); ctx.roundRect(x1, y1, x2 - x1, y2 - y1, 3); ctx.fill();
    rich(ctx, 'H_{2}-CVD-NO', (x1 + x2) / 2, (y1 + y2) / 2, { size: 7.5, color: '#fff' });
  },
  texts: [
    ['(g)', 19, 418, { size: 15 }],
    ['*{µ}~{FE} (cm^{2}/Vs)', 15, 513, { size: 11, rot: -90 }],
    ['*{V}~{th} (V)', 125, 612, { size: 11 }],
    ['H_{2}-CVD-N_{2}', 93, 447, { size: 7.5, color: BLUE }],
    ['Ox-NO (reported)', 167, 509, { size: 7.5 }],
    ['Ox-N_{2}', 93, 541, { size: 7.5, color: BLUE }],
    ['Ox-NO', 140, 553, { size: 7.5, color: RED }]
  ]
});

// ---------- (h) ----------
const hCol = { c175: '#e31010', c150: '#e8751a', c125: '#7cb342', c100: '#4bacc6', c75: '#1f64a8', c25: '#000' };
const hLegCols = [hCol.c175, hCol.c150, hCol.c125, hCol.c100, hCol.c75, hCol.c25];
const hLegMarks = ['sf', 'tf', 'cf', 'df', 'sf', 'cf'];
panel({
  area: [288, 439, 453, 576],
  frameColor: '#d0d0d0', ticksIn: false,
  x: { min: 0, max: 100, ticks: [], labels: null },
  y: { min: 6, max: 9, ticks: hTicksY, labels: hLabelsY, pad: 6 },
  datasets: [
    ...hSplit.map(t => lineDs(pts([t, t], [hSplitLow, hSplitHigh]), '#5b8fc8', 1.6)),
    markDs(pts(h25T, h25On), 'cf', 2.2, hCol.c25),
    markDs(pts(h25OffT, h25Off), 'co', 2.2, hCol.c25),
    markDs(pts(h75T, h75On), 'sf', 2.3, hCol.c75),
    markDs(pts(h75OffT, h75Off), 'so', 2.2, hCol.c100),
    markDs(pts(h100T, h100On), 'df', 2.4, hCol.c100),
    markDs(pts(h100OffT, h100Off), 'do', 2.4, hCol.c100),
    markDs(pts(h125T, h125On), 'cf', 2.6, hCol.c125),
    markDs(pts(h125OffT, h125Off), 'so', 2.2, hCol.c125),
    markDs(pts(h150T, h150On), 'tf', 2.4, hCol.c150),
    markDs(pts(h150OffT, h150Off), 'to', 2.3, hCol.c150),
    markDs(pts(h175T, h175On), 'sf', 2.7, hCol.c175),
    markDs(pts(h175OffT, h175Off), 'so', 2.7, hCol.c175)
  ],
  over: ctx => {
    ctx.fillStyle = '#fff'; ctx.fillRect(441, 452, 36, 118);
    ctx.strokeStyle = '#b0b0b0'; ctx.lineWidth = 1; ctx.strokeRect(441.5, 452.5, 36, 118);
    hNames.forEach((n, i) => {
      const y = 462 + i * 19.6;
      mark(ctx, hLegMarks[i], 447, y, 2.2, hLegCols[i]);
      rich(ctx, n, 452, y, { size: 7.5, align: 'left' });
    });
  },
  texts: [
    ['(h)', 272, 418, { size: 15 }],
    ['*{V}~{th} (V)', 253, 513, { size: 11, rot: -90 }],
    ['Time (s)', 373, 609, { size: 11 }],
    ['BTS:', 458, 444, { size: 9.5 }]
  ]
});

// ---------- (i) ----------
const iPocSeries = [iPoc0, iPoc5, iPoc10, iPoc20], iNoSeries = [iNo0, iNo5, iNo10, iNo20];
const iCircle = ['co', 'cf', 'cd', 'ch'], iTri = ['to', 'tf', 'td', 'th'];
panel({
  area: [544, 438, 736, 577],
  x: { min: 22, max: 206, ticks: iTicksX, labels: iLabelsX, minor: range(30, 200, 10), pad: 8.5, fs: 10.5 },
  y: { min: -0.13, max: 3.5, ticks: iTicksY, labels: iLabelsY, minor: [0.5, 1.5, 2.5], pad: 5, fs: 10.5 },
  datasets: [
    ...iNoSeries.map((s, i) => lineDs(pts(iTemp, s), '#3535c8', 1, [3, 2], {
      pointStyle: markImg(iTri[i], 3.8, NAVY), pointRadius: 3.8 })),
    ...iPocSeries.map((s, i) => lineDs(pts(iTemp, s), '#ff3030', 1, [3, 2], {
      pointStyle: markImg(iCircle[i], 3.5, RED), pointRadius: 3.5 }))
  ],
  over: (ctx, X, Y) => {
    iNames.forEach((n, i) => {
      const y = 458 + i * 9.2;
      ctx.lineWidth = 1; ctx.setLineDash([3, 2]);
      ctx.strokeStyle = '#ff3030'; seg(ctx, 548, y, 571, y);
      ctx.strokeStyle = '#3535c8'; seg(ctx, 571, y, 589, y);
      ctx.setLineDash([]);
      mark(ctx, iCircle[i], 557, y, 3.3, RED);
      mark(ctx, iTri[i], 583, y, 3.5, NAVY);
      rich(ctx, n, 595, y, { size: 7, align: 'left' });
    });
    ctx.strokeStyle = '#333'; ctx.lineWidth = 1;
    const ell = (cx, cy, rx, ry, a0, a1) => {
      ctx.beginPath();
      ctx.ellipse(X(cx), Y(cy), X(cx + rx) - X(cx), Y(cy) - Y(cy + ry), 0, a0, a1);
      ctx.stroke();
    };
    ell(65.4, 0.94, 14.4, 0.63, -1.75, 1.45);
    ell(127.9, 0.31, 8.7, 0.33, -1.75, 1.6);
  },
  texts: [
    ['(i)', 522, 418, { size: 15 }],
    ['*{ΔV}~{th} (V)', 522, 508, { size: 11, rot: -90 }],
    ['*{T} (°C)', 637, 611, { size: 11 }],
    ['Minimum *{V}~{gs}', 557, 446, { size: 7, align: 'left' }],
    ['NO', 580, 510, { size: 8.5, color: NAVY }],
    ['POCl_{3}', 659, 540, { size: 8.5, color: RED }]
  ]
});
</script>
</body>
</html>
